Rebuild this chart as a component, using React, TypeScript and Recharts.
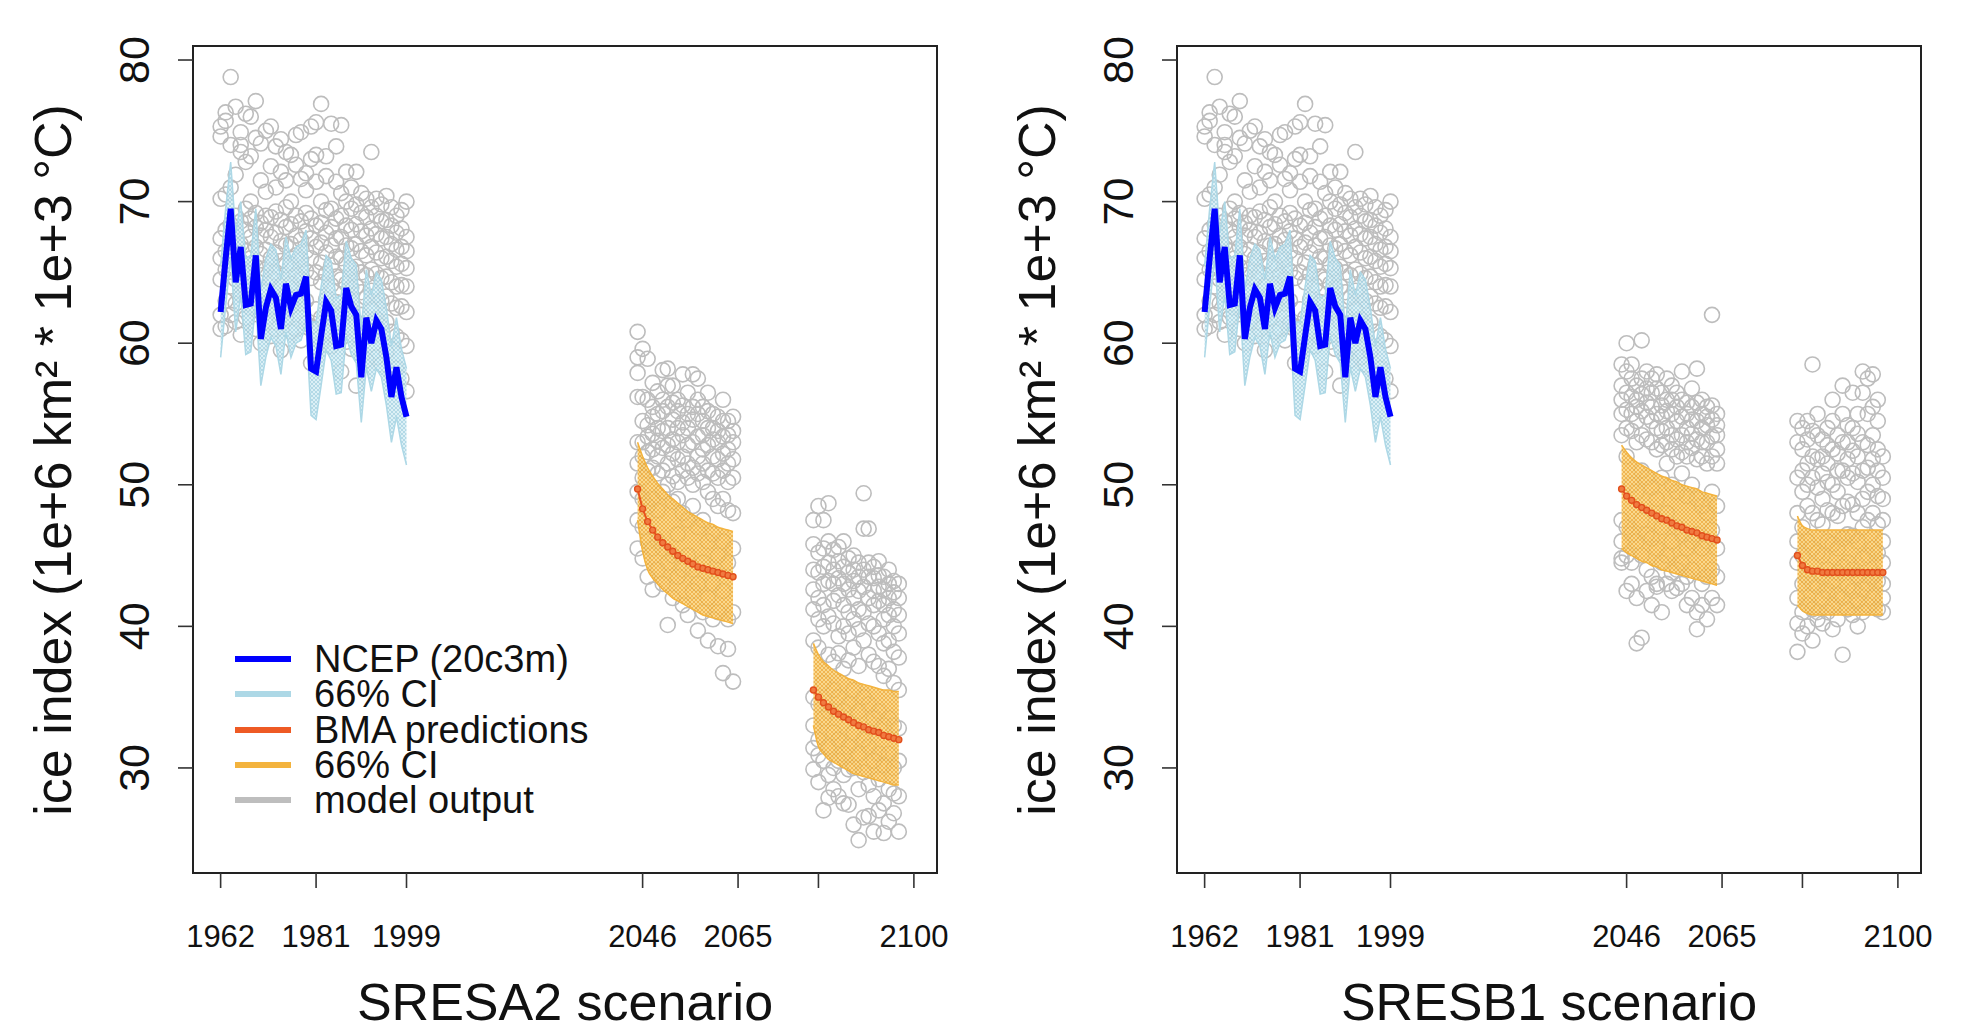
import React from 'react';
import { ComposedChart, XAxis, YAxis, Scatter, Area, Line, ReferenceArea } from 'recharts';

// ---- historical period (same in both panels) ----
const histYears = [1962, 1963, 1964, 1965, 1966, 1967, 1968, 1969, 1970, 1971, 1972, 1973, 1974, 1975, 1976, 1977, 1978, 1979, 1980,
  1981, 1982, 1983, 1984, 1985, 1986, 1987, 1988, 1989, 1990, 1991, 1992, 1993, 1994, 1995, 1996, 1997, 1998, 1999];
const ncep = [62.2, 66.0, 69.5, 64.3, 66.8, 62.7, 62.8, 66.2, 60.3, 62.5, 63.8, 63.2, 61.0, 64.2, 62.5, 63.4, 63.5, 64.7, 58.2,
  58.0, 60.5, 62.9, 62.3, 59.8, 59.9, 63.9, 62.6, 62.0, 57.6, 61.8, 60.0, 61.6, 61.0, 59.0, 56.2, 58.3, 56.2, 54.8];
const ncepHigh = [65.5, 69.5, 72.8, 67.8, 70.0, 66.0, 66.2, 69.5, 63.8, 66.0, 67.0, 66.6, 64.5, 67.5, 66.0, 66.8, 67.0, 68.0, 61.5,
  61.5, 64.0, 66.2, 65.8, 63.2, 63.4, 67.2, 66.0, 65.5, 61.0, 65.2, 63.4, 65.0, 64.5, 62.5, 59.8, 61.8, 59.6, 58.2];
const ncepLow = [59.0, 62.6, 66.0, 60.8, 63.4, 59.2, 59.4, 62.8, 57.0, 59.0, 60.4, 59.8, 57.8, 60.8, 59.0, 60.0, 60.2, 61.3, 54.9,
  54.6, 57.0, 59.5, 58.8, 56.4, 56.5, 60.5, 59.2, 58.6, 54.4, 58.3, 56.6, 58.2, 57.6, 55.6, 53.0, 54.8, 52.8, 51.4];
const histModel = [
  [75.3, 74.6, 70.2, 67.4, 66.0, 64.5, 62.0, 61.0],
  [75.7, 76.3, 70.5, 68.0, 66.5, 65.2, 63.0, 61.2],
  [78.8, 74.0, 71.0, 68.4, 67.2, 65.5, 64.0, 62.0],
  [76.7, 71.9, 69.0, 67.8, 66.0, 64.5, 62.8, 61.5],
  [74.9, 74.0, 73.5, 68.6, 67.0, 65.8, 63.5, 60.6],
  [76.2, 72.8, 69.5, 68.0, 66.5, 65.0, 63.8, 61.8],
  [76.0, 73.2, 70.0, 68.8, 67.5, 66.0, 64.2, 62.5],
  [77.1, 74.5, 69.2, 68.2, 66.8, 65.4, 63.0, 61.0],
  [74.1, 71.5, 68.5, 67.6, 66.3, 64.8, 62.2, 60.0],
  [75.0, 70.7, 69.0, 68.0, 66.6, 65.2, 63.6, 61.5],
  [75.3, 72.5, 68.9, 67.5, 66.0, 64.6, 63.0, 60.5],
  [73.9, 71.0, 69.3, 67.8, 66.4, 65.0, 62.5, 61.0],
  [72.1, 74.4, 68.7, 67.2, 65.8, 64.0, 62.0, 59.5],
  [73.5, 71.5, 69.6, 68.2, 66.9, 65.5, 63.4, 61.8],
  [73.3, 70.0, 68.4, 67.0, 65.6, 64.2, 62.6, 60.8],
  [74.7, 72.6, 69.0, 67.6, 66.2, 64.8, 63.2, 61.0],
  [74.9, 71.6, 68.6, 67.3, 65.9, 64.5, 62.8, 60.2],
  [72.0, 70.8, 69.2, 67.9, 66.5, 65.1, 63.0, 61.4],
  [75.3, 73.0, 68.8, 67.4, 66.0, 64.6, 61.2, 58.6],
  [75.6, 73.3, 71.4, 68.3, 66.8, 65.0, 62.4, 59.5],
  [76.9, 70.0, 68.5, 67.1, 65.7, 64.3, 61.8, 60.0],
  [73.2, 71.8, 69.4, 67.8, 66.4, 64.9, 63.1, 60.8],
  [75.5, 69.5, 68.2, 66.9, 65.5, 64.1, 62.2, 59.8],
  [73.9, 71.4, 68.8, 67.4, 66.1, 64.7, 62.9, 60.4],
  [75.4, 70.6, 69.0, 67.5, 66.0, 64.5, 62.0, 58.0],
  [72.1, 70.0, 68.3, 66.9, 65.6, 64.2, 62.7, 60.1],
  [71.0, 69.5, 68.0, 66.7, 65.3, 63.9, 62.3, 59.6],
  [72.1, 69.8, 68.4, 67.0, 65.4, 64.0, 61.5, 57.0],
  [70.6, 69.2, 67.9, 66.5, 65.0, 63.6, 62.0, 59.2],
  [70.2, 68.9, 67.6, 66.2, 64.8, 63.2, 61.0, 58.8],
  [73.5, 69.6, 68.1, 66.8, 65.2, 63.7, 62.4, 60.5],
  [70.2, 69.0, 67.7, 66.4, 64.9, 63.4, 61.7, 59.0],
  [69.8, 68.6, 67.4, 66.0, 64.6, 63.0, 61.2, 58.5],
  [70.4, 68.7, 67.5, 66.1, 64.7, 63.3, 61.5, 59.4],
  [69.6, 68.3, 67.0, 65.8, 64.3, 62.8, 60.8, 57.8],
  [69.0, 67.8, 66.6, 65.4, 64.0, 62.5, 60.5, 58.2],
  [69.4, 68.1, 66.8, 65.6, 64.1, 62.6, 60.2, 57.5],
  [70.0, 67.5, 66.5, 65.3, 64.0, 62.2, 59.8, 56.6],
];

// ---- future periods ----
const nearYears = [2045, 2046, 2047, 2048, 2049, 2050, 2051, 2052, 2053, 2054, 2055, 2056, 2057, 2058, 2059, 2060, 2061, 2062, 2063, 2064];
const farYears = [2080, 2081, 2082, 2083, 2084, 2085, 2086, 2087, 2088, 2089, 2090, 2091, 2092, 2093, 2094, 2095, 2096, 2097];

// SRES A2
const a2NearBma = [49.7, 48.3, 47.4, 46.8, 46.3, 45.9, 45.6, 45.3, 45.0, 44.8, 44.6, 44.4, 44.2, 44.1, 44.0, 43.9, 43.8, 43.7, 43.6, 43.5];
const a2NearHigh = [53.0, 52.0, 51.2, 50.6, 50.1, 49.7, 49.3, 49.0, 48.7, 48.4, 48.1, 47.9, 47.7, 47.5, 47.3, 47.2, 47.0, 46.9, 46.8, 46.7];
const a2NearLow = [47.5, 45.3, 44.0, 43.4, 43.0, 42.6, 42.3, 42.0, 41.8, 41.6, 41.4, 41.2, 41.0, 40.8, 40.7, 40.6, 40.5, 40.4, 40.3, 40.2];
const a2NearModel = [
  [60.8, 59.0, 57.9, 56.2, 53.0, 51.5, 49.5, 47.5, 45.5],
  [59.6, 56.2, 54.5, 53.0, 52.0, 50.5, 49.0, 47.0, 44.8],
  [58.9, 56.0, 54.2, 53.4, 52.3, 51.0, 48.5, 46.0, 43.5],
  [57.2, 55.5, 54.8, 53.6, 52.5, 51.2, 49.0, 45.5, 42.6],
  [56.6, 55.0, 54.0, 53.1, 52.0, 50.8, 48.2, 46.0, 44.0],
  [58.1, 56.0, 55.2, 53.8, 52.6, 51.0, 49.5, 45.5, 43.0],
  [58.2, 57.0, 55.5, 54.0, 52.8, 51.5, 50.0, 44.5, 40.1],
  [57.0, 55.8, 54.6, 53.2, 52.2, 50.6, 48.8, 45.0, 42.0],
  [56.0, 55.2, 54.0, 53.0, 51.8, 50.2, 49.0, 46.5, 43.5],
  [57.8, 55.6, 54.4, 53.5, 52.0, 51.0, 48.0, 44.0, 41.5],
  [56.5, 55.0, 54.0, 52.8, 51.5, 50.5, 47.5, 45.0, 40.8],
  [57.8, 55.5, 54.6, 53.0, 51.2, 50.0, 48.5, 44.0, 42.5],
  [57.5, 56.0, 55.0, 53.4, 52.0, 50.8, 47.0, 43.0, 39.7],
  [55.5, 54.5, 53.5, 52.5, 51.5, 50.2, 47.5, 44.5, 41.0],
  [56.5, 55.2, 54.0, 52.8, 51.0, 49.5, 46.0, 42.0, 39.0],
  [55.0, 54.0, 53.2, 52.0, 50.8, 49.0, 46.5, 43.0, 40.5],
  [54.8, 53.8, 53.0, 51.8, 50.5, 48.5, 45.0, 41.0, 38.6],
  [56.0, 54.5, 53.4, 52.2, 51.0, 49.0, 46.0, 42.5, 36.7],
  [54.5, 53.5, 52.5, 51.5, 50.2, 48.2, 44.5, 40.5, 38.4],
  [54.8, 53.8, 53.0, 51.8, 50.5, 48.0, 45.5, 41.0, 36.1],
];
const a2FarBma = [35.5, 35.0, 34.6, 34.3, 34.0, 33.8, 33.6, 33.4, 33.2, 33.0, 32.9, 32.7, 32.6, 32.5, 32.3, 32.2, 32.1, 32.0];
const a2FarHigh = [38.8, 38.0, 37.5, 37.2, 36.9, 36.7, 36.5, 36.3, 36.2, 36.0, 35.9, 35.8, 35.7, 35.6, 35.5, 35.5, 35.4, 35.4];
const a2FarLow = [33.0, 31.5, 31.0, 30.6, 30.4, 30.2, 30.0, 29.8, 29.6, 29.5, 29.4, 29.3, 29.2, 29.1, 29.0, 28.9, 28.8, 28.8];
const a2FarModel = [
  [47.5, 45.8, 44.0, 42.6, 41.2, 39.0, 35.0, 33.0, 31.4, 29.9],
  [48.5, 45.2, 43.8, 42.0, 40.5, 38.5, 34.5, 32.0, 30.9, 29.0],
  [47.5, 45.5, 44.2, 43.0, 41.5, 40.0, 36.0, 33.5, 30.5, 27.0],
  [48.7, 46.0, 44.5, 43.2, 40.7, 38.0, 34.0, 31.5, 29.5, 27.9],
  [45.4, 44.0, 43.0, 41.8, 40.2, 37.5, 35.5, 32.5, 30.0, 28.5],
  [45.6, 44.6, 43.4, 42.2, 39.3, 38.1, 35.0, 32.0, 30.5, 28.0],
  [46.0, 44.2, 43.0, 41.5, 40.0, 37.0, 34.0, 31.0, 29.5, 27.5],
  [44.8, 43.8, 42.6, 41.0, 39.5, 37.6, 34.5, 31.5, 29.9, 27.4],
  [45.0, 44.0, 43.2, 42.0, 40.5, 38.5, 35.5, 32.5, 30.0, 26.0],
  [44.5, 43.5, 42.5, 41.2, 39.8, 37.2, 34.0, 31.0, 28.5, 24.9],
  [49.4, 46.9, 44.0, 42.8, 41.0, 39.0, 35.0, 32.0, 29.7, 26.5],
  [46.9, 44.5, 43.5, 42.0, 40.2, 38.0, 34.5, 31.5, 28.8, 26.6],
  [44.2, 43.4, 42.5, 41.5, 40.0, 37.5, 33.5, 30.5, 28.0, 25.5],
  [44.6, 43.6, 42.8, 41.8, 39.5, 37.2, 34.0, 31.0, 29.2, 27.0],
  [43.5, 42.6, 41.5, 40.5, 38.8, 36.5, 33.0, 30.2, 27.5, 25.4],
  [44.0, 43.0, 42.0, 40.8, 39.0, 37.0, 33.5, 31.0, 28.5, 26.2],
  [43.2, 42.4, 41.2, 40.0, 38.2, 36.0, 33.0, 30.0, 28.2, 26.8],
  [43.0, 42.0, 40.8, 39.5, 37.8, 35.5, 32.8, 30.5, 28.0, 25.5],
];

// SRES B1
const b1NearBma = [49.7, 49.2, 48.9, 48.6, 48.4, 48.2, 48.0, 47.8, 47.6, 47.5, 47.3, 47.1, 47.0, 46.8, 46.7, 46.6, 46.4, 46.3, 46.2, 46.1];
const b1NearHigh = [52.8, 52.3, 51.9, 51.6, 51.4, 51.2, 51.0, 50.8, 50.6, 50.5, 50.3, 50.2, 50.0, 49.9, 49.8, 49.7, 49.5, 49.4, 49.3, 49.2];
const b1NearLow = [45.5, 45.2, 45.0, 44.8, 44.6, 44.5, 44.3, 44.2, 44.0, 43.9, 43.8, 43.7, 43.6, 43.5, 43.4, 43.3, 43.2, 43.1, 43.0, 42.9];
const b1NearModel = [
  [58.5, 57.0, 56.0, 55.0, 53.5, 47.5, 46.0, 44.8, 44.5],
  [60.0, 58.0, 56.5, 55.3, 54.0, 52.0, 47.0, 45.0, 42.5],
  [58.5, 57.5, 56.2, 55.0, 53.8, 50.0, 46.5, 44.5, 43.0],
  [57.0, 56.0, 55.5, 54.5, 53.0, 49.5, 46.0, 42.0, 38.8],
  [60.2, 57.5, 56.4, 55.2, 53.5, 51.0, 47.5, 45.0, 39.2],
  [58.0, 56.8, 55.8, 54.8, 53.2, 50.5, 46.5, 44.0, 42.5],
  [57.5, 56.5, 55.5, 54.5, 53.0, 49.8, 46.2, 43.5, 41.5],
  [57.8, 56.8, 55.0, 54.0, 52.5, 49.0, 45.5, 43.0, 42.8],
  [56.5, 55.6, 54.8, 53.8, 52.8, 50.5, 47.0, 44.5, 41.0],
  [57.5, 56.0, 55.2, 54.0, 53.0, 51.5, 48.0, 45.0, 43.0],
  [57.0, 56.0, 55.0, 53.5, 52.5, 50.0, 46.0, 43.8, 42.5],
  [56.5, 55.5, 54.5, 53.2, 52.0, 49.5, 47.0, 44.0, 42.7],
  [58.0, 56.0, 54.8, 53.5, 52.3, 50.8, 46.5, 44.5, 43.0],
  [55.8, 55.0, 54.0, 53.0, 52.0, 49.2, 45.5, 43.5, 41.5],
  [56.8, 55.5, 54.6, 53.6, 52.6, 50.0, 46.0, 44.0, 42.0],
  [58.2, 55.8, 54.5, 53.2, 51.8, 49.0, 46.5, 41.0, 39.8],
  [56.0, 55.0, 54.0, 53.0, 52.0, 48.5, 45.5, 43.0, 41.5],
  [55.5, 54.8, 54.2, 53.0, 51.5, 48.0, 46.0, 43.5, 40.5],
  [62.0, 55.6, 54.6, 53.4, 52.0, 49.5, 46.8, 44.0, 42.0],
  [55.0, 54.2, 53.5, 52.5, 51.5, 48.5, 45.5, 43.5, 41.5],
];
const b1FarBma = [45.0, 44.3, 44.0, 43.9, 43.9, 43.8, 43.8, 43.8, 43.8, 43.8, 43.8, 43.8, 43.8, 43.8, 43.8, 43.8, 43.8, 43.8];
const b1FarHigh = [47.8, 47.1, 46.9, 46.8, 46.8, 46.8, 46.8, 46.8, 46.8, 46.8, 46.8, 46.8, 46.8, 46.8, 46.8, 46.8, 46.8, 46.8];
const b1FarLow = [41.5, 41.1, 40.9, 40.8, 40.8, 40.8, 40.8, 40.8, 40.8, 40.8, 40.8, 40.8, 40.8, 40.8, 40.8, 40.8, 40.8, 40.8];
const b1FarModel = [
  [54.5, 53.0, 50.5, 48.0, 46.0, 44.5, 42.0, 40.2, 38.2],
  [54.0, 52.5, 51.0, 49.5, 47.0, 45.0, 43.0, 41.0, 39.5],
  [54.5, 53.2, 51.5, 50.0, 48.5, 46.0, 43.5, 41.5, 40.0],
  [58.5, 53.8, 52.0, 50.5, 48.0, 45.5, 43.0, 41.2, 39.0],
  [55.0, 53.5, 51.8, 49.8, 47.5, 45.2, 42.8, 41.0, 40.5],
  [53.2, 52.0, 50.8, 49.0, 47.2, 45.0, 43.5, 42.0, 40.2],
  [54.0, 52.8, 51.5, 50.2, 48.2, 46.0, 44.0, 42.5, 41.0],
  [56.0, 54.5, 52.5, 50.0, 48.0, 45.8, 43.2, 41.5, 39.8],
  [53.5, 52.2, 51.0, 49.5, 47.8, 45.5, 43.8, 42.2, 40.5],
  [57.0, 55.0, 53.0, 51.0, 48.5, 46.2, 44.2, 42.0, 38.0],
  [54.2, 53.0, 51.8, 50.5, 48.8, 46.5, 44.5, 42.8, 41.2],
  [56.5, 54.0, 52.4, 50.8, 48.6, 46.4, 44.0, 42.5, 40.8],
  [55.0, 53.6, 52.0, 50.2, 48.0, 46.0, 43.6, 41.8, 40.0],
  [58.0, 56.5, 53.0, 51.0, 49.0, 47.0, 44.8, 42.6, 41.0],
  [57.5, 55.0, 52.8, 51.2, 49.5, 47.5, 45.0, 43.0, 41.5],
  [57.8, 55.5, 53.5, 51.8, 50.0, 48.0, 45.5, 43.5, 42.0],
  [56.0, 54.5, 52.5, 51.0, 49.2, 47.2, 45.2, 43.2, 41.2],
  [52.0, 50.5, 49.0, 47.5, 46.0, 44.5, 43.0, 42.0, 41.0],
];

// ---- axes ----
const xTicks = [1962, 1981, 1999, 2046, 2065, 2081, 2100];
const xTickLabels = ['1962', '1981', '1999', '2046', '2065', '', '2100'];
const yTicks = [30, 40, 50, 60, 70, 80];
const xDomain = [1956.5, 2104.6];
const yDomain = [22.58, 80.99];

const legendLabels = ['NCEP (20c3m)', '66% CI', 'BMA predictions', '66% CI', 'model output'];
const legendColors = ['#0000ff', '#add8e6', '#ee5a24', '#f3b33d', '#bebebe'];

const FONT = '"Liberation Sans", Arial, Helvetica, sans-serif';

const toLine = (years: number[], vals: number[]) => years.map((year, i) => ({ year, value: vals[i] }));
const toBand = (years: number[], lo: number[], hi: number[]) => years.map((year, i) => ({ year, band: [lo[i], hi[i]] }));
const toPoints = (years: number[], rows: number[][]) => years.flatMap((year, i) => rows[i].map((value) => ({ year, value })));

const Ring = (props: any) => (
  <circle cx={props.cx} cy={props.cy} r={7.5} fill="none" stroke="#bdbdbd" strokeWidth={1.6} />
);

const XTick = (props: any) => {
  const { x, y, payload } = props;
  const label = xTickLabels[xTicks.indexOf(payload.value)];
  return (
    <text x={x} y={y + 57} textAnchor="middle" fontFamily={FONT} fontSize={31} fill="#111">
      {label}
    </text>
  );
};

const YTick = (props: any) => {
  const { y, payload } = props;
  return (
    <text x={134} y={y} transform={`rotate(-90, 134, ${y})`} textAnchor="middle" dominantBaseline="central"
      fontFamily={FONT} fontSize={43} fill="#111">
      {payload.value}
    </text>
  );
};

const YTitle = () => (
  <text x={53} y={460} transform="rotate(-90, 53, 460)" textAnchor="middle" dominantBaseline="central"
    fontFamily={FONT} fontSize={52} fill="#111">
    ice index (1e+6 km² * 1e+3 °C)
  </text>
);

type PanelProps = {
  id: string;
  title: string;
  width: number;
  nearBma: number[]; nearLow: number[]; nearHigh: number[]; nearModel: number[][];
  farBma: number[]; farLow: number[]; farHigh: number[]; farModel: number[][];
};

function Panel(p: PanelProps) {
  const points = [...toPoints(histYears, histModel), ...toPoints(nearYears, p.nearModel), ...toPoints(farYears, p.farModel)];
  const orangeFill = `url(#hatchOrange-${p.id})`;
  const bmaDot = { r: 3, stroke: '#e24f1c', strokeWidth: 1.4, fill: '#f07a40' };
  return (
    <ComposedChart width={p.width} height={1028} margin={{ top: 46, right: p.width - 937, left: 0, bottom: 0 }}>
      <defs>
        <pattern id={`hatchBlue-${p.id}`} width="4" height="4" patternUnits="userSpaceOnUse">
          <rect width="4" height="4" fill="#d6edf4" />
          <path d="M0,0 L4,4 M4,0 L0,4" stroke="#a6d2e2" strokeWidth="1" />
        </pattern>
        <pattern id={`hatchOrange-${p.id}`} width="4" height="4" patternUnits="userSpaceOnUse">
          <rect width="4" height="4" fill="#f9d47e" />
          <path d="M0,0 L4,4 M4,0 L0,4" stroke="#eeab3a" strokeWidth="1" />
        </pattern>
      </defs>
      <XAxis
        type="number"
        dataKey="year"
        domain={xDomain}
        allowDataOverflow
        ticks={xTicks}
        interval={0}
        tick={<XTick />}
        tickSize={15}
        tickLine={{ stroke: '#333', strokeWidth: 1.6 }}
        axisLine={false}
        height={155}
        label={{ value: p.title, position: 'insideBottom', offset: 8, fontSize: 52, fontFamily: FONT, fill: '#111' }}
      />
      <YAxis
        type="number"
        domain={yDomain}
        allowDataOverflow
        ticks={yTicks}
        interval={0}
        tick={<YTick />}
        tickSize={15}
        tickLine={{ stroke: '#333', strokeWidth: 1.6 }}
        axisLine={false}
        width={193}
        label={<YTitle />}
      />
      <Scatter data={points} dataKey="value" shape={Ring} isAnimationActive={false} zIndex={100} />
      <Area data={toBand(histYears, ncepLow, ncepHigh)} dataKey="band" type="linear" stroke="#add8e6" strokeWidth={1.5}
        fill={`url(#hatchBlue-${p.id})`} fillOpacity={0.85} isAnimationActive={false} zIndex={200} />
      <Area data={toBand(nearYears, p.nearLow, p.nearHigh)} dataKey="band" type="monotone" stroke="#f3b33d" strokeWidth={1.5}
        fill={orangeFill} fillOpacity={0.88} isAnimationActive={false} zIndex={200} />
      <Area data={toBand(farYears, p.farLow, p.farHigh)} dataKey="band" type="monotone" stroke="#f3b33d" strokeWidth={1.5}
        fill={orangeFill} fillOpacity={0.88} isAnimationActive={false} zIndex={200} />
      <Line data={toLine(histYears, ncep)} dataKey="value" type="linear" stroke="#0000ff" strokeWidth={6}
        dot={false} isAnimationActive={false} zIndex={300} />
      <Line data={toLine(nearYears, p.nearBma)} dataKey="value" type="linear" stroke="#e8531f" strokeWidth={2}
        dot={bmaDot} isAnimationActive={false} zIndex={300} />
      <Line data={toLine(farYears, p.farBma)} dataKey="value" type="linear" stroke="#e8531f" strokeWidth={2}
        dot={bmaDot} isAnimationActive={false} zIndex={300} />
      <ReferenceArea x1={xDomain[0]} x2={xDomain[1]} y1={yDomain[0]} y2={yDomain[1]} fill="none" stroke="#222"
        strokeWidth={2} ifOverflow="visible" zIndex={400} />
    </ComposedChart>
  );
}

function LegendBox() {
  const rowCenters = [659, 694, 730, 765, 800];
  return (
    <div style={{ position: 'absolute', left: 0, top: 0, pointerEvents: 'none' }}>
      {legendLabels.map((label, i) => (
        <div key={i} style={{ position: 'absolute', left: 235, top: rowCenters[i] - 17, height: 34, display: 'flex', alignItems: 'center', whiteSpace: 'nowrap' }}>
          <div style={{ width: 56, height: 6, background: legendColors[i] }} />
          <span style={{ marginLeft: 23, fontFamily: FONT, fontSize: 38, color: '#111', lineHeight: '34px' }}>{label}</span>
        </div>
      ))}
    </div>
  );
}

export default function App() {
  return (
    <div style={{ position: 'absolute', left: 0, top: 0, width: 1969, height: 1028, background: '#fff', overflow: 'hidden' }}>
      <div style={{ position: 'absolute', left: 0, top: 0 }}>
        <Panel id="a2" title="SRESA2 scenario" width={984}
          nearBma={a2NearBma} nearLow={a2NearLow} nearHigh={a2NearHigh} nearModel={a2NearModel}
          farBma={a2FarBma} farLow={a2FarLow} farHigh={a2FarHigh} farModel={a2FarModel} />
        <LegendBox />
      </div>
      <div style={{ position: 'absolute', left: 984, top: 0 }}>
        <Panel id="b1" title="SRESB1 scenario" width={985}
          nearBma={b1NearBma} nearLow={b1NearLow} nearHigh={b1NearHigh} nearModel={b1NearModel}
          farBma={b1FarBma} farLow={b1FarLow} farHigh={b1FarHigh} farModel={b1FarModel} />
      </div>
    </div>
  );
}
